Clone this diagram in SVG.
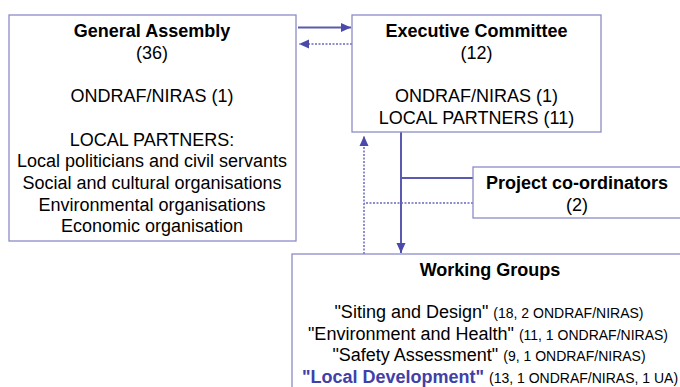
<svg xmlns="http://www.w3.org/2000/svg" width="680" height="387" viewBox="0 0 680 387">
<defs>
<style>
.box{fill:#fff;stroke:#8c8cc8;stroke-width:1.3}
.t{font-family:"Liberation Sans",Arial,sans-serif;font-size:18px;fill:#000;text-anchor:middle}
.b{font-weight:bold}
.s{font-size:14px}
.solid{stroke:#5a5ab0;stroke-width:2;fill:none}
.dot{stroke:#6a6ac0;stroke-width:1.5;stroke-dasharray:2 1.5;fill:none}
</style>
<marker id="ahb" viewBox="0 0 10 10" refX="10" refY="5" markerWidth="10" markerHeight="10" markerUnits="userSpaceOnUse" orient="auto"><path d="M0,0.5 L10,5 L0,9.5 z" fill="#4a4aa8"/></marker>
</defs>
<rect width="680" height="387" fill="#fff"/>
<g id="connectors">
<line class="solid" x1="298" y1="27.5" x2="351" y2="27.5" marker-end="url(#ahb)"/>
<line class="dot" x1="352" y1="44" x2="299" y2="44" marker-end="url(#ahb)"/>
<line class="solid" x1="401" y1="132" x2="401" y2="253" marker-end="url(#ahb)"/>
<line class="solid" x1="401" y1="178" x2="473" y2="178"/>
<line class="dot" x1="473" y1="203" x2="364" y2="203"/>
<line class="dot" x1="364" y1="254" x2="364" y2="136" marker-end="url(#ahb)"/>
</g>
<g id="general-assembly">
<rect class="box" x="9" y="15" width="287" height="226"/>
<text class="t b" x="152" y="37">General Assembly</text>
<text class="t" x="152" y="59">(36)</text>
<text class="t" x="152" y="102">ONDRAF/NIRAS (1)</text>
<text class="t" x="152" y="146">LOCAL PARTNERS:</text>
<text class="t" x="152" y="167">Local politicians and civil servants</text>
<text class="t" x="152" y="189">Social and cultural organisations</text>
<text class="t" x="152" y="211">Environmental organisations</text>
<text class="t" x="152" y="232">Economic organisation</text>
</g>
<g id="executive-committee">
<rect class="box" x="352" y="15" width="249" height="117"/>
<text class="t b" x="476.5" y="37">Executive Committee</text>
<text class="t" x="476.5" y="59">(12)</text>
<text class="t" x="476.5" y="102">ONDRAF/NIRAS (1)</text>
<text class="t" x="476.5" y="124">LOCAL PARTNERS (11)</text>
</g>
<g id="project-coordinators">
<rect class="box" x="473" y="167" width="220" height="51"/>
<text class="t b" x="577" y="189">Project co-ordinators</text>
<text class="t" x="577" y="211">(2)</text>
</g>
<g id="working-groups">
<rect class="box" x="292" y="254" width="400" height="150"/>
<text class="t b" x="490" y="276">Working Groups</text>
<text class="t" x="489" y="318">"Siting and Design" <tspan class="s">(18, 2 ONDRAF/NIRAS)</tspan></text>
<text class="t" x="488" y="340">"Environment and Health" <tspan class="s">(11, 1 ONDRAF/NIRAS)</tspan></text>
<text class="t" x="489" y="361">"Safety Assessment" <tspan class="s">(9, 1 ONDRAF/NIRAS)</tspan></text>
<text class="t" x="490" y="383"><tspan class="b" fill="#4040a8">"Local Development"</tspan> <tspan class="s">(13, 1 ONDRAF/NIRAS, 1 UA)</tspan></text>
</g>
</svg>
